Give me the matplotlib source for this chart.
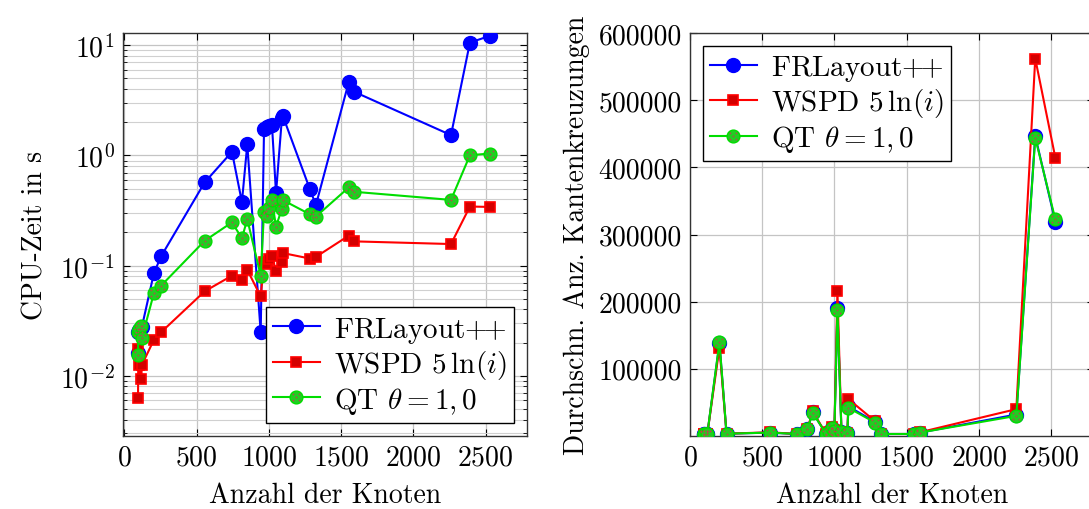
import matplotlib
matplotlib.use("Agg")
import matplotlib.pyplot as plt
from matplotlib.path import Path
from matplotlib.transforms import Affine2D

plt.rcParams.update({
    "font.family": "cmr10",
    "mathtext.fontset": "cm",
    "axes.formatter.use_mathtext": True,
    "axes.unicode_minus": False,
    "font.size": 20,
})

# Number of nodes per test graph (same graphs for all three methods)
nodes = [94, 96, 98, 117, 120, 204, 253, 555, 744, 813, 850, 943, 966, 985,
         1000, 1021, 1049, 1090, 1097, 1282, 1325, 1552, 1591, 2260, 2391, 2530]

# CPU time in seconds
time_fr = [0.016, 0.025, 0.026, 0.027, 0.0275, 0.0855, 0.121, 0.569, 1.08, 0.377,
           1.26, 0.0248, 1.73, 1.80, 1.86, 1.88, 0.455, 2.20, 2.27, 0.50, 0.354,
           4.62, 3.78, 1.53, 10.6, 12.2]
time_wspd = [0.0063, 0.0175, 0.0125, 0.0093, 0.0125, 0.0212, 0.0248, 0.0584, 0.081,
             0.074, 0.0916, 0.0525, 0.108, 0.103, 0.114, 0.121, 0.0898, 0.107, 0.130,
             0.116, 0.120, 0.187, 0.166, 0.157, 0.344, 0.341]
time_qt = [0.0154, 0.0248, 0.0265, 0.0281, 0.0218, 0.0563, 0.0656, 0.168, 0.247,
           0.177, 0.264, 0.081, 0.308, 0.283, 0.337, 0.393, 0.226, 0.33, 0.393,
           0.293, 0.279, 0.512, 0.468, 0.395, 1.005, 1.042]

# Average number of edge crossings
cross_fr = [2500, 3000, 2000, 3500, 3000, 138000, 3500, 5000, 3000, 10000, 35000,
            3000, 6000, 12000, 8000, 190500, 6000, 4000, 44000, 21000, 3000, 3000,
            5000, 32000, 446600, 319000]
cross_wspd = [2500, 3000, 2000, 3500, 3000, 131700, 3500, 5500, 3000, 11000, 36500,
              3000, 6500, 13000, 8500, 216000, 6500, 4500, 55000, 22000, 3000, 3000,
              5500, 40000, 562000, 414400]
cross_qt = [2500, 3000, 2000, 3500, 3000, 140000, 3500, 5000, 3000, 10000, 34500,
            3000, 6000, 12000, 8000, 188000, 6000, 4000, 42000, 20000, 3000, 3000,
            5000, 30000, 444000, 322500]

labels = [r"FRLayout$\mathbf{{+}\!{+}}$", r"WSPD $5\,\ln(i)$", r"QT $\theta = 1,0$"]

BLUE = "#0000ff"
RED = "#ff0000"
RED_FILL = "#d40000"
GREEN = "#00dd00"
GREEN_FILL = "#22cc22"
DOT = "#b8474a"

# dotted fill pattern for the QT markers
_dot = Path.unit_circle()
_pts = [(0, 0), (0.5, 0.5), (-0.5, 0.5), (0.5, -0.5), (-0.5, -0.5)]
dot_marker = Path.make_compound_path(
    *[_dot.transformed(Affine2D().scale(0.14).translate(px, py)) for px, py in _pts])

MS_B, MS_R, MS_G = 10.0, 7.8, 9.2


def draw_series(ax, x, yb, yr, yg):
    ax.plot(x, yb, color=BLUE, lw=1.5, marker="o", ms=MS_B,
            mfc=BLUE, mec=BLUE, zorder=3)
    ax.plot(x, yr, color=RED, lw=1.5, marker="s", ms=MS_R,
            mfc=RED_FILL, mec=RED, mew=1.2, zorder=4)
    ax.plot(x, yg, color=GREEN, lw=1.5, marker="o", ms=MS_G,
            mfc=GREEN_FILL, mec=GREEN, zorder=5)
    ax.plot(x, yg, ls="none", marker=dot_marker, ms=MS_G * 0.62,
            mfc=DOT, mec="none", zorder=6)


def legend_handles():
    hb = plt.Line2D([], [], color=BLUE, lw=1.5, marker="o", ms=MS_B, mfc=BLUE, mec=BLUE)
    hr = plt.Line2D([], [], color=RED, lw=1.5, marker="s", ms=MS_R, mfc=RED_FILL,
                    mec=RED, mew=1.2)
    hg = plt.Line2D([], [], color=GREEN, lw=1.5, marker="o", ms=MS_G, mfc=GREEN_FILL,
                    mec=GREEN)
    hgd = plt.Line2D([], [], ls="none", marker=dot_marker, ms=MS_G * 0.62,
                     mfc=DOT, mec="none")
    return [hb, hr, (hg, hgd)]


def style_axes(ax):
    ax.tick_params(which="both", direction="in", top=True, right=True)
    ax.tick_params(which="major", length=5, width=0.8, pad=6)
    ax.tick_params(which="minor", length=3, width=0.6)
    for sp in ax.spines.values():
        sp.set_linewidth(1.0)
        sp.set_color("#333333")
    ax.set_axisbelow(True)


def add_legend(ax, loc, anchor):
    leg = ax.legend(legend_handles(), labels, loc=loc, bbox_to_anchor=anchor,
                    borderaxespad=0, numpoints=1, handlelength=1.6,
                    fancybox=False, edgecolor="black", framealpha=1,
                    labelspacing=0.12, handletextpad=0.5, borderpad=0.25,
                    fontsize=21)
    leg.get_frame().set_linewidth(1.0)
    return leg


fig = plt.figure(figsize=(10.89, 5.10), dpi=100)

# CPU time, logarithmic
ax1 = fig.add_axes([123 / 1089, 73 / 510, 404 / 1089, 403 / 510])
draw_series(ax1, nodes, time_fr, time_wspd, time_qt)
ax1.set_yscale("log")
ax1.set_xlim(-10, 2786)
ax1.set_ylim(10 ** -2.547, 10 ** 1.112)
ax1.set_xticks([0, 500, 1000, 1500, 2000, 2500])
ax1.grid(True, which="major", color="#c4c4c4", lw=0.9)
ax1.grid(True, which="minor", axis="y", color="#d0d0d0", lw=0.8)
style_axes(ax1)
ax1.set_xlabel("Anzahl der Knoten", labelpad=8)
ax1.set_ylabel("CPU-Zeit in s", labelpad=8)
add_legend(ax1, "lower right", (0.9686, 0.0323))

# Edge crossings, linear
ax2 = fig.add_axes([690 / 1089, 73 / 510, 404.3 / 1089, 403 / 510])
draw_series(ax2, nodes, cross_fr, cross_wspd, cross_qt)
ax2.set_xlim(0, 2800)
ax2.set_ylim(0, 600000)
ax2.set_xticks([0, 500, 1000, 1500, 2000, 2500])
ax2.set_yticks([100000, 200000, 300000, 400000, 500000, 600000])
ax2.set_yticklabels(["100000", "200000", "300000", "400000", "500000", "600000"])
ax2.grid(True, which="major", color="#c4c4c4", lw=0.9)
style_axes(ax2)
ax2.set_xlabel("Anzahl der Knoten", labelpad=8)
ax2.set_ylabel("Durchschn. Anz. Kantenkreuzungen", labelpad=6)
add_legend(ax2, "upper left", (0.0314, 0.9685))

fig.savefig("out.png", dpi=100)
